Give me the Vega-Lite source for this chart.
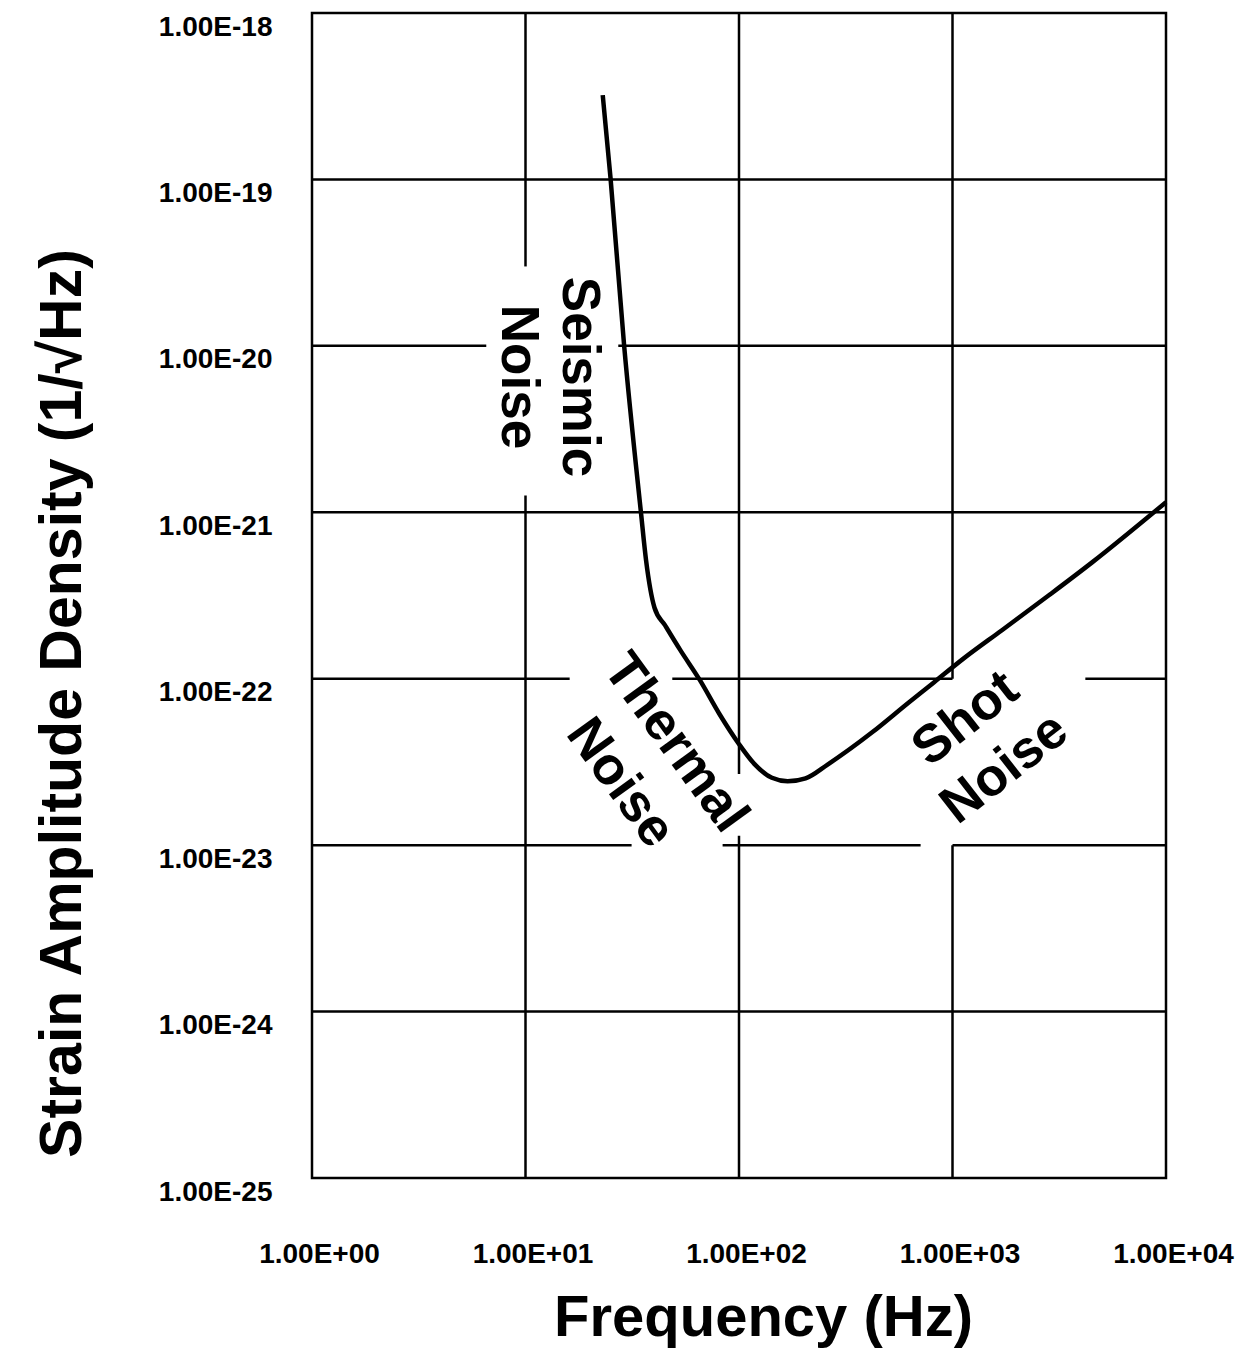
{
  "$schema": "https://vega.github.io/schema/vega-lite/v6.json",
  "width": 854,
  "height": 1165,
  "autosize": {"type": "none"},
  "padding": {"left": 312, "top": 13, "right": 76, "bottom": 175},
  "background": "white",
  "datasets": {
    "curve": [
      {"x": 23.0, "y": 3.21e-19},
      {"x": 25.0, "y": 1.03e-19},
      {"x": 29.0, "y": 9.9e-21},
      {"x": 34.7, "y": 1.01e-21},
      {"x": 36.7, "y": 5.15e-22},
      {"x": 40.2, "y": 2.67e-22},
      {"x": 45.0, "y": 2.1e-22},
      {"x": 53.2, "y": 1.48e-22},
      {"x": 65.6, "y": 9.8e-23},
      {"x": 80.7, "y": 6.18e-23},
      {"x": 99.7, "y": 4.07e-23},
      {"x": 117.9, "y": 3.08e-23},
      {"x": 142.6, "y": 2.54e-23},
      {"x": 169, "y": 2.42e-23},
      {"x": 205, "y": 2.52e-23},
      {"x": 260, "y": 3.05e-23},
      {"x": 422, "y": 4.78e-23},
      {"x": 624, "y": 7.2e-23},
      {"x": 818, "y": 9.5e-23},
      {"x": 1125, "y": 1.32e-22},
      {"x": 1698, "y": 1.95e-22},
      {"x": 2818, "y": 3.16e-22},
      {"x": 4508, "y": 5.0e-22},
      {"x": 10000, "y": 1.15e-21}
    ],
    "grid": [
      {"x": 10, "x2": 10, "y": 1e-18, "y2": 3.0e-20},
      {"x": 10, "x2": 10, "y": 1.26e-21, "y2": 1e-25},
      {"x": 100, "x2": 100, "y": 1e-18, "y2": 2.68e-23},
      {"x": 100, "x2": 100, "y": 1.14e-23, "y2": 1e-25},
      {"x": 1000, "x2": 1000, "y": 1e-18, "y2": 1e-22},
      {"x": 1000, "x2": 1000, "y": 1e-23, "y2": 1e-25},
      {"x": 1, "x2": 10000, "y": 1e-19, "y2": 1e-19},
      {"x": 1, "x2": 6.55, "y": 1e-20, "y2": 1e-20},
      {"x": 27.2, "x2": 10000, "y": 1e-20, "y2": 1e-20},
      {"x": 1, "x2": 10000, "y": 1e-21, "y2": 1e-21},
      {"x": 1, "x2": 16.1, "y": 1e-22, "y2": 1e-22},
      {"x": 48.7, "x2": 1000, "y": 1e-22, "y2": 1e-22},
      {"x": 4190, "x2": 10000, "y": 1e-22, "y2": 1e-22},
      {"x": 1, "x2": 31.4, "y": 1e-23, "y2": 1e-23},
      {"x": 83.8, "x2": 709, "y": 1e-23, "y2": 1e-23},
      {"x": 1000, "x2": 10000, "y": 1e-23, "y2": 1e-23},
      {"x": 1, "x2": 10000, "y": 1e-24, "y2": 1e-24}
    ],
    "seismic": [{"x": 17.8, "y": 6.5e-21, "label": "Seismic\nNoise"}],
    "thermal": [{"x": 50.4, "y": 4.11e-23, "label": "Thermal\nNoise"}],
    "shot": [{"x": 1154, "y": 5.74e-23, "label": "Shot\nNoise"}]
  },
  "encoding": {
    "x": {
      "field": "x",
      "type": "quantitative",
      "scale": {"type": "log", "domain": [1, 10000], "nice": false},
      "axis": {
        "values": [1, 10, 100, 1000, 10000],
        "labelExpr": "'1.00E' + (datum.value < 1 ? '-' : '+') + format(abs(round(log(datum.value) / LN10)), '02d')",
        "labelPadding": 62,
        "labelBaseline": "top",
        "labelOffset": 7,
        "labelFlush": false,
        "labelOverlap": false,
        "title": "Frequency (Hz)",
        "titleFontSize": 58,
        "titleX": 451,
        "titleY": 157,
        "titleAlign": "center",
        "titleBaseline": "alphabetic",
        "titleAngle": 0
      }
    },
    "y": {
      "field": "y",
      "type": "quantitative",
      "scale": {"type": "log", "domain": [1e-25, 1e-18], "nice": false},
      "axis": {
        "values": [1e-25, 1e-24, 1e-23, 1e-22, 1e-21, 1e-20, 1e-19, 1e-18],
        "labelExpr": "'1.00E' + (datum.value < 1 ? '-' : '+') + format(abs(round(log(datum.value) / LN10)), '02d')",
        "labelPadding": 40,
        "labelOffset": 14,
        "labelBaseline": "middle",
        "labelFlush": false,
        "labelOverlap": false,
        "title": "Strain Amplitude Density (1/√Hz)",
        "titleFontSize": 59,
        "titleX": -232,
        "titleY": 690,
        "titleAngle": -90,
        "titleAlign": "center",
        "titleBaseline": "alphabetic"
      }
    }
  },
  "layer": [
    {
      "data": {"name": "grid"},
      "mark": {"type": "rule", "color": "black", "strokeWidth": 2.5},
      "encoding": {
        "x2": {"field": "x2"},
        "y2": {"field": "y2"}
      }
    },
    {
      "data": {"name": "curve"},
      "mark": {"type": "line", "color": "black", "strokeWidth": 4.5, "interpolate": "monotone"},
      "encoding": {}
    },
    {
      "data": {"name": "seismic"},
      "mark": {"type": "text", "angle": 90, "lineBreak": "\n", "lineHeight": 61, "font": "Liberation Sans", "fontWeight": "bold", "fontSize": 53, "align": "center", "baseline": "middle", "color": "black"},
      "encoding": {"text": {"field": "label"}}
    },
    {
      "data": {"name": "thermal"},
      "mark": {"type": "text", "angle": 54, "lineBreak": "\n", "lineHeight": 68, "font": "Liberation Sans", "fontWeight": "bold", "fontSize": 53, "align": "center", "baseline": "middle", "color": "black"},
      "encoding": {"text": {"field": "label"}}
    },
    {
      "data": {"name": "shot"},
      "mark": {"type": "text", "angle": -38, "lineBreak": "\n", "lineHeight": 63, "font": "Liberation Sans", "fontWeight": "bold", "fontSize": 53, "align": "center", "baseline": "middle", "color": "black"},
      "encoding": {"text": {"field": "label"}}
    }
  ],
  "config": {
    "view": {"stroke": "black", "strokeWidth": 2.5},
    "axis": {
      "grid": false,
      "domain": false,
      "ticks": false,
      "labelFont": "Liberation Sans",
      "labelFontWeight": "bold",
      "labelFontSize": 28,
      "labelColor": "black",
      "titleFont": "Liberation Sans",
      "titleFontWeight": "bold",
      "titleColor": "black"
    }
  }
}
